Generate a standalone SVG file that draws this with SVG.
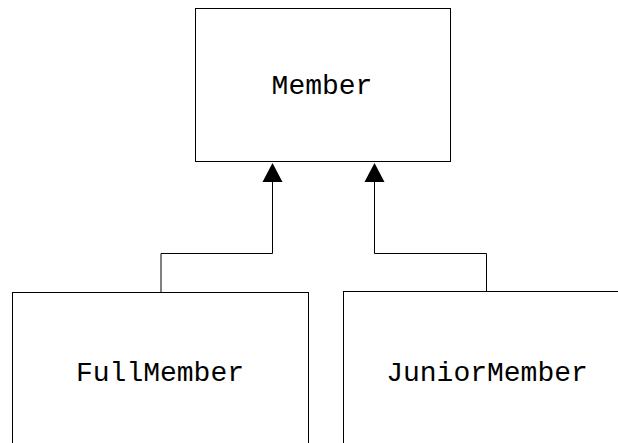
<svg xmlns="http://www.w3.org/2000/svg" width="618" height="443" viewBox="0 0 618 443">
<style>
.box{fill:#fff;stroke:#000;stroke-width:1}
.lbl{font-family:"Liberation Mono","Courier New",monospace;font-size:28px;fill:#000;text-anchor:middle}
.conn{fill:none;stroke:#000;stroke-width:1}
.head{fill:#000;stroke:none}
</style>
<rect width="618" height="443" fill="#fff"/>
<g id="connectors">
<polyline class="conn" points="161,292 161,253.5 272.5,253.5 272.5,180"/>
<polygon class="head" points="272.5,163 262.5,182 282.5,182"/>
<polyline class="conn" points="486.5,291 486.5,253.5 374.5,253.5 374.5,180"/>
<polygon class="head" points="374.5,163 364.5,182 384.5,182"/>
</g>
<g id="member">
<rect class="box" x="195.5" y="8.5" width="255" height="153"/>
<text class="lbl" x="322" y="94">Member</text>
</g>
<g id="fullmember">
<rect class="box" x="12.5" y="292.5" width="296" height="170"/>
<text class="lbl" x="160" y="381">FullMember</text>
</g>
<g id="juniormember">
<rect class="box" x="343.5" y="291.5" width="300" height="170"/>
<text class="lbl" x="487" y="381">JuniorMember</text>
</g>
</svg>
